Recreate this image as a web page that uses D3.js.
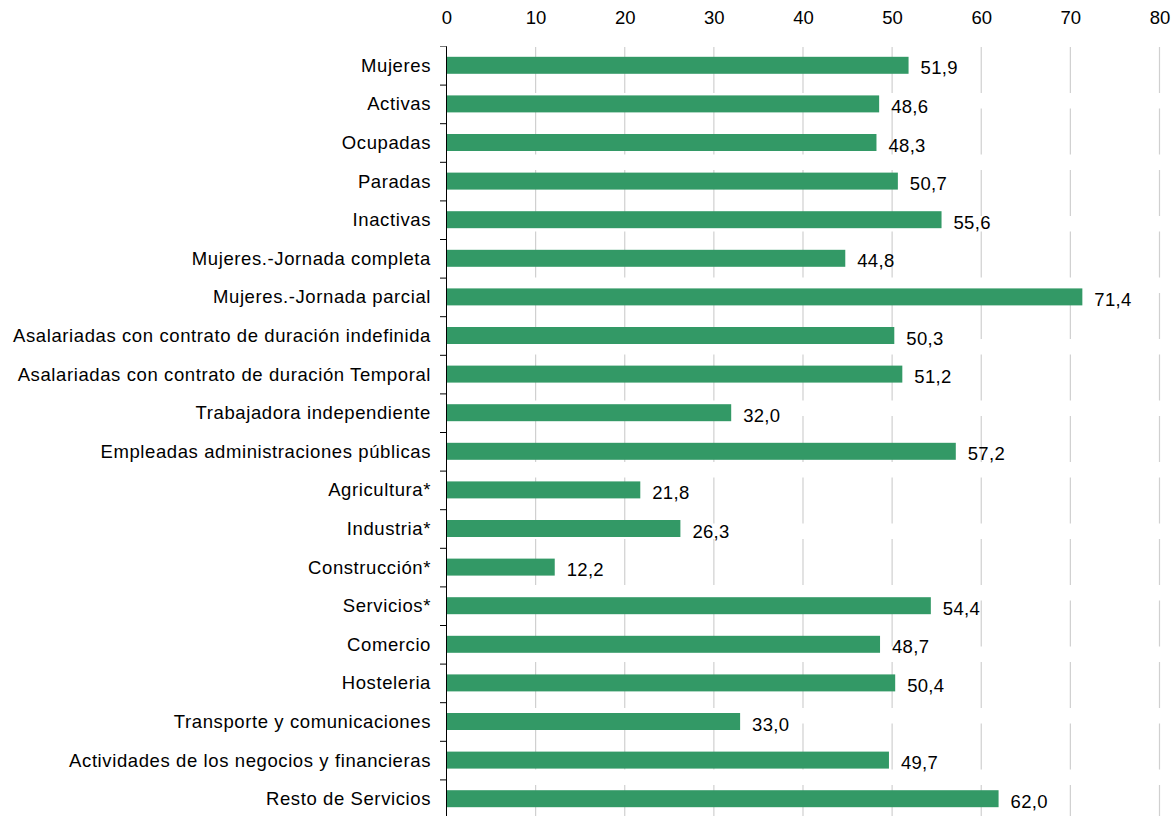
<!DOCTYPE html>
<html>
<head>
<meta charset="utf-8">
<script src="https://cdn.jsdelivr.net/npm/d3@7"></script>
<style>
  body { margin: 0; background: #fff; }
  text { font-family: "Liberation Sans", Arial, sans-serif; fill: #000; }
</style>
</head>
<body>
<div id="chart"></div>
<script>
var categories = [
  "Mujeres", "Activas", "Ocupadas", "Paradas", "Inactivas",
  "Mujeres.-Jornada completa", "Mujeres.-Jornada parcial",
  "Asalariadas con contrato de duración indefinida",
  "Asalariadas con contrato de duración Temporal",
  "Trabajadora independiente", "Empleadas administraciones públicas",
  "Agricultura*", "Industria*", "Construcción*", "Servicios*",
  "Comercio", "Hosteleria", "Transporte y comunicaciones",
  "Actividades de los negocios y financieras", "Resto de Servicios"
];
var values = [51.9, 48.6, 48.3, 50.7, 55.6, 44.8, 71.4, 50.3, 51.2, 32.0,
  57.2, 21.8, 26.3, 12.2, 54.4, 48.7, 50.4, 33.0, 49.7, 62.0];
var xTicks = [0, 10, 20, 30, 40, 50, 60, 70, 80];

var svgWidth = 1176;
var svgHeight = 816;
var margin = { top: 46, right: 17, bottom: -2, left: 446 };
var width = svgWidth - margin.left - margin.right;
var height = svgHeight - margin.top - margin.bottom;

var svg = d3.select("#chart")
  .append("svg")
  .attr("width", svgWidth)
  .attr("height", svgHeight);

var chartGroup = svg.append("g")
  .attr("transform", `translate(${margin.left}, ${margin.top})`);

var xScale = d3.scaleLinear().domain([0, 80]).range([0, width]);
var yScale = d3.scaleBand().domain(categories).range([0, height]).paddingInner(0.56).paddingOuter(0.28);
var bandScale = d3.scaleBand().domain(categories).range([0, height]);

// gridlines
chartGroup.selectAll(".grid")
  .data(xTicks.slice(1))
  .enter()
  .append("line")
  .attr("x1", d => xScale(d) + 0.5)
  .attr("x2", d => xScale(d) + 0.5)
  .attr("y1", 1)
  .attr("y2", height)
  .attr("stroke", "#d0d0d0")
  .attr("stroke-width", 1.2)
  .attr("stroke-dasharray", "46,15.5");

// top axis labels
chartGroup.selectAll(".xlab")
  .data(xTicks)
  .enter()
  .append("text")
  .attr("x", d => xScale(d) + 1)
  .attr("y", -22)
  .attr("text-anchor", "middle")
  .style("font-size", "18.5px")
  .text(d => d);

// bars
chartGroup.selectAll(".bar")
  .data(values)
  .enter()
  .append("rect")
  .attr("x", 1)
  .attr("y", (d, i) => yScale(categories[i]))
  .attr("width", d => xScale(d) - 1)
  .attr("height", yScale.bandwidth())
  .attr("fill", "#339966");

// value labels
chartGroup.selectAll(".val")
  .data(values)
  .enter()
  .append("text")
  .attr("x", d => xScale(d) + 12)
  .attr("y", (d, i) => yScale(categories[i]) + yScale.bandwidth() / 2 + 9)
  .style("font-size", "18.5px")
  .style("letter-spacing", "0.3px")
  .text(d => d.toFixed(1).replace(".", ","));

// left axis
var leftAxis = d3.axisLeft(bandScale).tickSize(0).tickPadding(15);
var yAxis = chartGroup.append("g").call(leftAxis);
yAxis.select(".domain").remove();
yAxis.selectAll("text")
  .style("font-size", "18.5px")
  .style("letter-spacing", "0.6px")
  .attr("dy", "0.35em");

chartGroup.append("line")
  .attr("x1", 0.5).attr("x2", 0.5)
  .attr("y1", 0).attr("y2", height)
  .attr("stroke", "#000");

chartGroup.selectAll(".ytick")
  .data(categories)
  .enter()
  .append("line")
  .attr("x1", -6).attr("x2", 0.5)
  .attr("y1", d => bandScale(d) + 0.5)
  .attr("y2", d => bandScale(d) + 0.5)
  .attr("stroke", (d, i) => i === 0 ? "#777" : "#000");
</script>
</body>
</html>
